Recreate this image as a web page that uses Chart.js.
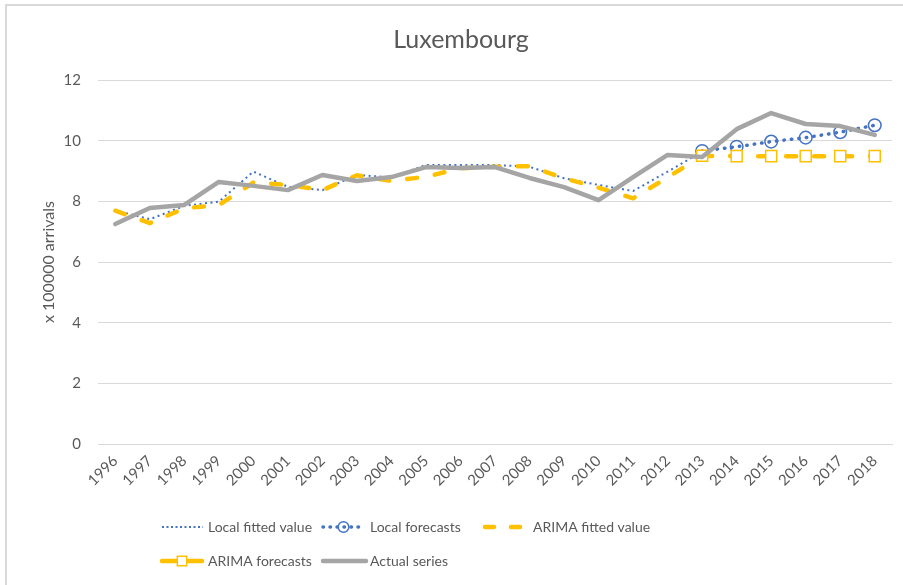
<!DOCTYPE html>
<html>
<head>
<meta charset="utf-8">
<script src="https://cdn.jsdelivr.net/npm/chart.js@4.4.1/dist/chart.umd.min.js"></script>
<style>
  html, body { margin: 0; padding: 0; background: #ffffff; }
  #wrap { position: relative; width: 903px; height: 585px; overflow: hidden; }
  #c { position: absolute; left: 0; top: 0; }
  #frame { position: absolute; left: 5px; top: 4px; width: 920px; height: 620px;
           border: 2px solid #d9d9d9; box-sizing: border-box; pointer-events: none; }
</style>
</head>
<body>
<div id="wrap">
  <canvas id="c" width="903" height="585"></canvas>
  <div id="frame"></div>
</div>
<script>
// ---- data ----
const years = ['1996','1997','1998','1999','2000','2001','2002','2003','2004','2005','2006','2007',
               '2008','2009','2010','2011','2012','2013','2014','2015','2016','2017','2018'];
const localFitted   = [7.70, 7.41, 7.85, 7.99, 8.98, 8.48, 8.37, 8.87, 8.79, 9.20, 9.20, 9.20,
                       9.14, 8.76, 8.54, 8.34, 8.98, 9.64, null, null, null, null, null];
const localForecast = [null, null, null, null, null, null, null, null, null, null, null, null,
                       null, null, null, null, null, 9.66, 9.80, 9.97, 10.10, 10.28, 10.51];
const arimaFitted   = [7.69, 7.28, 7.77, 7.88, 8.62, 8.54, 8.37, 8.86, 8.67, 8.81, 9.09, 9.14,
                       9.16, 8.76, 8.45, 8.10, 8.79, 9.50, null, null, null, null, null];
const arimaForecast = [null, null, null, null, null, null, null, null, null, null, null, null,
                       null, null, null, null, null, 9.50, 9.49, 9.49, 9.49, 9.49, 9.49];
const actualSeries  = [7.25, 7.78, 7.88, 8.64, 8.51, 8.37, 8.87, 8.67, 8.80, 9.13, 9.10, 9.13,
                       8.77, 8.47, 8.04, 8.80, 9.53, 9.46, 10.38, 10.91, 10.55, 10.48, 10.19];
const seriesNames = ['Local fitted value', 'Local forecasts', 'ARIMA fitted value', 'ARIMA forecasts', 'Actual series'];
const chartTitle = 'Luxembourg';
const yTitle = 'x 100000 arrivals';
const yMin = 0, yMax = 12, yStep = 2;

const FONT = 'Lato, "Open Sans", sans-serif';
const TXT = '#595959';
const BLUE = '#4472C4', GOLD = '#FFC000', GREY = '#A5A5A5';

// ---- legend drawn in Excel-like grid ----
const gridLegend = {
  id: 'gridLegend',
  afterDraw(chart) {
    const ctx = chart.ctx;
    const slots = [
      {i: 0, x1: 162, x2: 203, tx: 208, y: 527},
      {i: 1, x1: 323, x2: 364, tx: 370, y: 527},
      {i: 2, x1: 485, x2: 526, tx: 533, y: 527},
      {i: 3, x1: 162, x2: 202, tx: 208, y: 561},
      {i: 4, x1: 323, x2: 366, tx: 370, y: 561}
    ];
    slots.forEach(s => {
      const ds = chart.data.datasets[s.i];
      ctx.save();
      ctx.beginPath();
      ctx.strokeStyle = ds.borderColor;
      ctx.lineWidth = ds.legendWidth || ds.borderWidth;
      ctx.lineCap = ds.borderCapStyle || 'butt';
      ctx.setLineDash(ds.legendDash || ds.borderDash || []);
      ctx.moveTo(s.x1, s.y);
      ctx.lineTo(s.x2, s.y);
      ctx.stroke();
      ctx.setLineDash([]);
      if (ds.pointRadius > 0) {
        const cx = (s.x1 + s.x2) / 2;
        ctx.lineWidth = ds.pointBorderWidth;
        ctx.strokeStyle = ds.pointBorderColor;
        ctx.fillStyle = ds.pointBackgroundColor;
        ctx.beginPath();
        if (ds.pointStyle === 'rect') {
          const h = ds.pointRadius * Math.SQRT1_2 * 0.85;
          ctx.rect(cx - h, s.y - h, 2 * h, 2 * h);
        } else {
          ctx.arc(cx, s.y, ds.pointRadius * 0.85, 0, Math.PI * 2);
        }
        ctx.fill();
        ctx.stroke();
      }
      ctx.fillStyle = TXT;
      ctx.font = '14px ' + FONT;
      ctx.textBaseline = 'middle';
      ctx.textAlign = 'left';
      ctx.fillText(ds.label, s.tx, s.y);
      ctx.restore();
    });
  }
};

new Chart(document.getElementById('c'), {
  type: 'line',
  data: {
    labels: years,
    datasets: [
      { label: seriesNames[0], data: localFitted, order: 5,
        borderColor: BLUE, borderWidth: 2, borderDash: [2, 3.5], borderCapStyle: 'butt',
        legendDash: [2, 2.5],
        pointRadius: 0, tension: 0, fill: false },
      { label: seriesNames[1], data: localForecast, order: 4,
        borderColor: BLUE, borderWidth: 3.5, borderDash: [0.5, 7], borderCapStyle: 'round',
        legendDash: [0.5, 6.5],
        pointStyle: 'circle', pointRadius: 6.3, pointBorderWidth: 1.5,
        pointBorderColor: BLUE, pointBackgroundColor: 'rgba(255,255,255,0)',
        tension: 0, fill: false },
      { label: seriesNames[2], data: arimaFitted, order: 3,
        borderColor: GOLD, borderWidth: 4.5, borderDash: [10, 18], borderCapStyle: 'round',
        legendDash: [9, 17],
        pointRadius: 0, tension: 0, fill: false },
      { label: seriesNames[3], data: arimaForecast, order: 2,
        borderColor: GOLD, borderWidth: 4.5, borderDash: [10, 18], borderCapStyle: 'round',
        legendDash: [],
        pointStyle: 'rect', pointRadius: 7.8, pointBorderWidth: 1.5,
        pointBorderColor: GOLD, pointBackgroundColor: '#ffffff',
        tension: 0, fill: false },
      { label: seriesNames[4], data: actualSeries, order: 1,
        borderColor: GREY, borderWidth: 4.5, borderCapStyle: 'round', borderJoinStyle: 'round',
        pointRadius: 0, tension: 0, fill: false }
    ]
  },
  options: {
    responsive: false,
    animation: false,
    devicePixelRatio: 1,
    layout: { padding: { left: 30, right: 11, top: 0, bottom: 0 } },
    plugins: {
      legend: { display: false },
      tooltip: { enabled: false },
      title: {
        display: true, text: chartTitle, color: TXT,
        font: { family: FONT, size: 25, weight: 'normal', lineHeight: 1.2 },
        padding: { top: 25, bottom: 25 }
      }
    },
    scales: {
      x: {
        offset: true,
        grid: { display: false, drawTicks: false },
        border: { display: true, color: '#d9d9d9', width: 1 },
        ticks: { color: TXT, font: { family: FONT, size: 15 }, autoSkip: false,
                 minRotation: 45, maxRotation: 45, padding: 8 },
        afterFit(scale) { scale.height = 141; }
      },
      y: {
        min: yMin, max: yMax,
        grid: { color: '#d9d9d9', lineWidth: 1, drawTicks: false },
        border: { display: false },
        ticks: { stepSize: yStep, color: TXT, font: { family: FONT, size: 15 }, padding: 17 },
        title: { display: true, text: yTitle, color: TXT,
                 font: { family: FONT, size: 16, lineHeight: 1.2 }, padding: { top: 9, bottom: 0 } },
        afterFit(scale) { scale.width = 68; }
      }
    }
  },
  plugins: [gridLegend]
});
</script>
</body>
</html>
